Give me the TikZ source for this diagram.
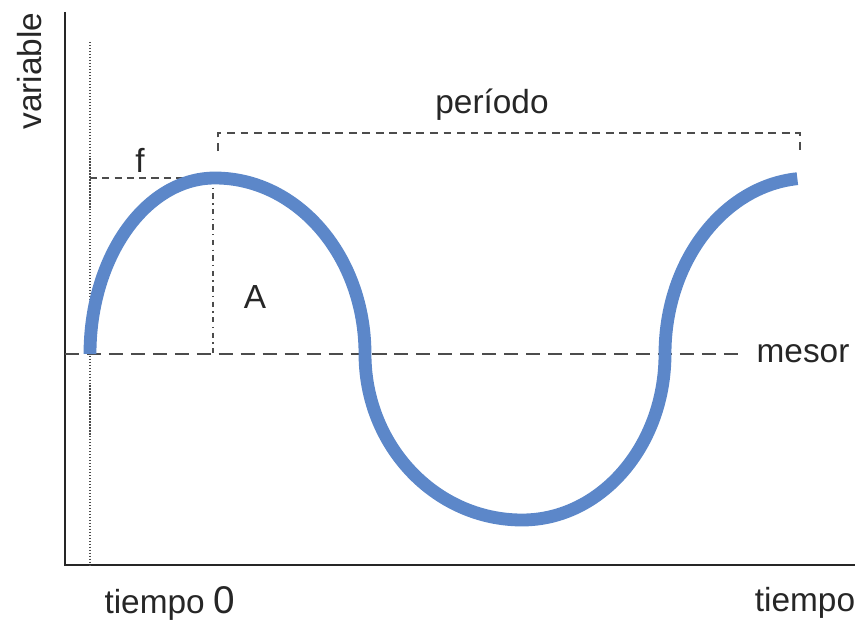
\documentclass[tikz,border=0pt]{standalone}
\usepackage{fontspec}
\setmainfont{Liberation Sans}
\begin{document}
\begin{tikzpicture}[x=0.02cm, y=0.02cm,
    axis/.style={line width=1.6pt, black!85},
    guide/.style={line width=0.7pt, black!70},
    wave/.style={line width=7.3pt, color={rgb,255:red,92;green,135;blue,201}},
    lbl/.style={font=\fontsize{19}{22}\selectfont, text=black!85, inner sep=0pt}]
    \useasboundingbox (0,0) rectangle (861,620);
    % Axes
    \coordinate (o)    at (65,55);
    \coordinate (ytop) at (65,608);
    \coordinate (xend) at (855,55);
    \draw[axis] (ytop)--(o)--(xend);
    % Time zero
    \coordinate (t0top) at (90,578);
    \coordinate (t0bot) at (90,55);
    \draw[guide, densely dotted] (t0top)--(t0bot);
    % Mesor line
    \coordinate (m0) at (65,266);
    \coordinate (m1) at (745,266);
    \draw[guide, dash pattern=on 8pt off 4.5pt] (m0)--(m1);
    % Phase f and amplitude A
    \coordinate (f0) at (90,442);
    \coordinate (f1) at (185,442);
    \draw[guide, dash pattern=on 4pt off 3pt] (f0)--(f1);
    \coordinate (a0) at (213,442);
    \coordinate (a1) at (213,266);
    \draw[guide, dash pattern=on 3pt off 2.5pt on 0.8pt off 2.5pt] (a0)--(a1);
    % Period bracket
    \coordinate (p0) at (218,469);
    \coordinate (p1) at (218,487);
    \coordinate (p2) at (800,487);
    \coordinate (p3) at (800,467);
    \draw[guide, dash pattern=on 4.5pt off 3.2pt] (p0)--(p1)--(p2)--(p3);
    % Wave
    \coordinate (w0) at (90,266);
    \draw[wave] (w0) arc[start angle=180, end angle=90, x radius=125, y radius=176]
                     arc[start angle=90, end angle=0, x radius=150, y radius=176]
                     arc[start angle=180, end angle=270, x radius=157, y radius=166]
                     arc[start angle=270, end angle=360, x radius=143, y radius=166]
                     arc[start angle=180, end angle=95, x radius=145, y radius=176];
    % Labels
    \node[lbl, rotate=90] (var)    at (30,549) {variable};
    \node[lbl]            (per)    at (492,515) {período};
    \node[lbl]            (f)      at (140,460) {f};
    \node[lbl]            (A)      at (255,323) {A};
    \node[lbl]            (mes)    at (803,266) {mesor};
    \node[lbl]            (tcero)  at (170,17)  {tiempo {\fontsize{22}{24}\selectfont 0}};
    \node[lbl]            (tiempo) at (805,17)  {tiempo};
\end{tikzpicture}
\end{document}
